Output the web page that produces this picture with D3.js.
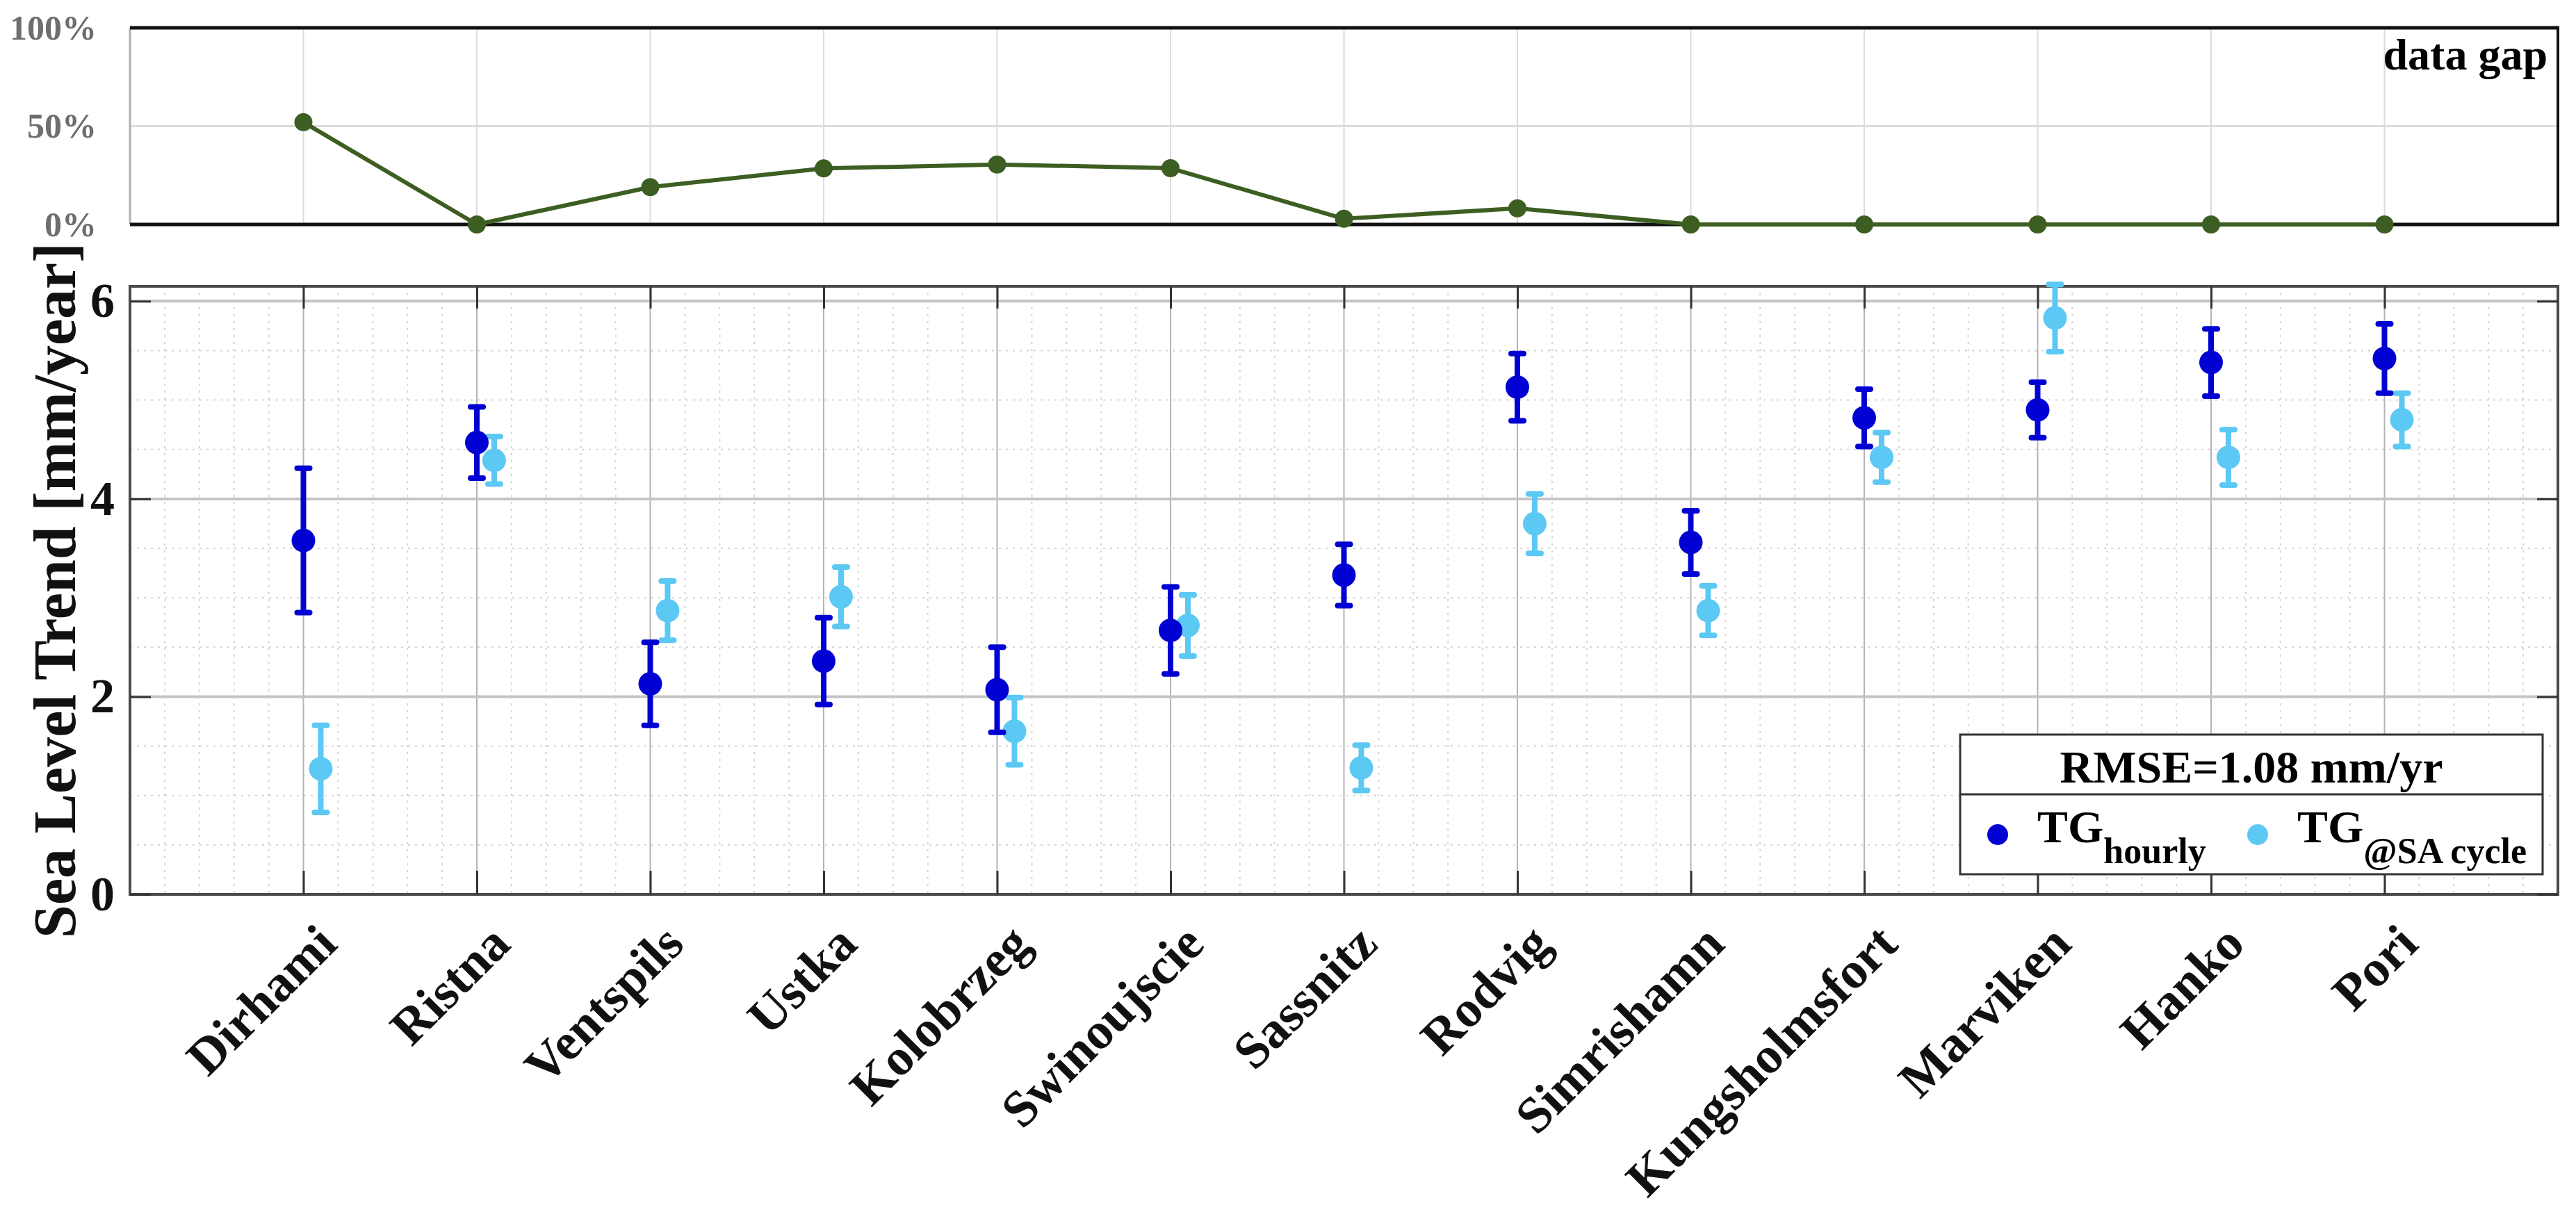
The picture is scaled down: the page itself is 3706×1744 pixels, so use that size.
<!DOCTYPE html>
<html>
<head>
<meta charset="utf-8">
<script src="https://cdn.jsdelivr.net/npm/d3@7"></script>
<style>
  html, body { margin: 0; padding: 0; background: #fff; }
  svg { display: block; }
  text { font-family: "Liberation Serif", "Times New Roman", serif; font-weight: bold; }
</style>
</head>
<body>
<svg id="chart" width="3706" height="1744"></svg>
<script>
// ---------- data ----------
const stations = ["Dirhami","Ristna","Ventspils","Ustka","Kolobrzeg","Swinoujscie","Sassnitz","Rodvig","Simrishamn","Kungsholmsfort","Marviken","Hanko","Pori"];
const dataGap = [52, 0, 19, 28.5, 30.5, 28.6, 2.9, 8.2, 0, 0, 0, 0, 0];
const hourly = [3.58, 4.57, 2.13, 2.36, 2.07, 2.67, 3.23, 5.13, 3.56, 4.82, 4.90, 5.38, 5.42];
const hourlyErr = [0.73, 0.36, 0.42, 0.44, 0.43, 0.44, 0.31, 0.34, 0.32, 0.29, 0.28, 0.34, 0.35];
const saCycle = [1.27, 4.39, 2.87, 3.01, 1.65, 2.72, 1.28, 3.75, 2.87, 4.42, 5.83, 4.42, 4.80];
const saErr = [0.44, 0.24, 0.30, 0.30, 0.34, 0.31, 0.23, 0.30, 0.25, 0.25, 0.34, 0.28, 0.27];
const gapTicks = [0, 50, 100];
const trendTicks = [0, 2, 4, 6];
const rmseLabel = "RMSE=1.08 mm/yr";

// ---------- layout ----------
const svg = d3.select("#chart");
const L = 187, R = 3680;
const topT = 40, topB = 323;
const botT = 412, botB = 1287;
const cHourly = "#0000d2", cSA = "#5cc8f4", cGreen = "#3d5e22";
const serif = '"Liberation Serif", "Times New Roman", serif';

const x = d3.scaleLinear().domain([0, 14]).range([L, R]);
const yGap = d3.scaleLinear().domain([0, 100]).range([topB, topT]);
const y = d3.scaleLinear().domain([0, 6.15]).range([botB, botT]);
const idx = d3.range(1, 14);

// ================= TOP PANEL =================
const gt = svg.append("g");
gt.selectAll("line.vg").data(idx).join("line")
  .attr("x1", d => x(d)).attr("x2", d => x(d))
  .attr("y1", topT).attr("y2", topB)
  .attr("stroke", "#dcdcdc").attr("stroke-width", 2);
gt.append("line").attr("x1", L).attr("x2", R).attr("y1", yGap(50)).attr("y2", yGap(50))
  .attr("stroke", "#dcdcdc").attr("stroke-width", 3);
gt.append("line").attr("x1", L).attr("x2", L).attr("y1", topT).attr("y2", topB).attr("stroke", "#b0b0b0").attr("stroke-width", 3);
gt.append("line").attr("x1", R).attr("x2", R).attr("y1", topT).attr("y2", topB).attr("stroke", "#111").attr("stroke-width", 4);
gt.append("line").attr("x1", L).attr("x2", R + 2).attr("y1", topT).attr("y2", topT).attr("stroke", "#111").attr("stroke-width", 5);
gt.append("line").attr("x1", L).attr("x2", R + 2).attr("y1", topB).attr("y2", topB).attr("stroke", "#111").attr("stroke-width", 5);

const gapAxis = d3.axisLeft(yGap).tickValues(gapTicks).tickFormat(d => d + "%").tickSize(0).tickPadding(48);
const ga = gt.append("g").attr("transform", `translate(${L},0)`).call(gapAxis);
ga.select(".domain").remove();
ga.selectAll("text").attr("font-size", 50).attr("fill", "#6e6e6e")
  .style("font-family", serif).style("font-weight", "bold");

const gapLine = d3.line().x((d, i) => x(i + 1)).y(d => yGap(d));
gt.append("path").datum(dataGap).attr("d", gapLine)
  .attr("fill", "none").attr("stroke", cGreen).attr("stroke-width", 6).attr("stroke-linejoin", "round");
gt.selectAll("circle").data(dataGap).join("circle")
  .attr("cx", (d, i) => x(i + 1)).attr("cy", d => yGap(d)).attr("r", 13).attr("fill", cGreen);

gt.append("text").attr("x", 3665).attr("y", 100).attr("text-anchor", "end")
  .attr("font-size", 64).attr("fill", "#000").text("data gap");

// ================= BOTTOM PANEL =================
const gb = svg.append("g");
const minorX = d3.range(0, 14.001, 0.2).filter(v => Math.abs(v - Math.round(v)) > 1e-6);
const minorY = d3.range(0, 6.15, 0.5).filter(v => Math.abs(v / 2 - Math.round(v / 2)) > 1e-6);
gb.selectAll("line.mx").data(minorX).join("line").attr("class", "mx")
  .attr("x1", d => x(d)).attr("x2", d => x(d)).attr("y1", botT).attr("y2", botB)
  .attr("stroke", "#d4d4d4").attr("stroke-width", 2).attr("stroke-dasharray", "3,7");
gb.selectAll("line.my").data(minorY).join("line").attr("class", "my")
  .attr("x1", L).attr("x2", R).attr("y1", d => y(d)).attr("y2", d => y(d))
  .attr("stroke", "#d4d4d4").attr("stroke-width", 2).attr("stroke-dasharray", "3,7");
gb.selectAll("line.gx").data(idx).join("line").attr("class", "gx")
  .attr("x1", d => x(d)).attr("x2", d => x(d)).attr("y1", botT).attr("y2", botB)
  .attr("stroke", "#b4b4b4").attr("stroke-width", 2);
gb.selectAll("line.gy").data(trendTicks.filter(v => v > 0)).join("line").attr("class", "gy")
  .attr("x1", L).attr("x2", R).attr("y1", d => y(d)).attr("y2", d => y(d))
  .attr("stroke", "#c4c4c4").attr("stroke-width", 4);

gb.append("rect").attr("x", L).attr("y", botT).attr("width", R - L).attr("height", botB - botT)
  .attr("fill", "none").attr("stroke", "#4a4a4a").attr("stroke-width", 4);

const yAxisL = d3.axisLeft(y).tickValues(trendTicks).tickFormat(d3.format("d")).tickSize(-30).tickPadding(22);
const yl = gb.append("g").attr("transform", `translate(${L},0)`).call(yAxisL);
yl.select(".domain").remove();
yl.selectAll("line").attr("stroke", "#333").attr("stroke-width", 3);
yl.selectAll("text").attr("font-size", 70).attr("fill", "#111")
  .style("font-family", serif).style("font-weight", "bold");

const yAxisR = d3.axisRight(y).tickValues(trendTicks).tickSize(-30).tickFormat("");
const yr = gb.append("g").attr("transform", `translate(${R},0)`).call(yAxisR);
yr.select(".domain").remove();
yr.selectAll("line").attr("stroke", "#333").attr("stroke-width", 3);

const xAxisT = d3.axisTop(x).tickValues(idx).tickSize(-32).tickFormat("");
const xt = gb.append("g").attr("transform", `translate(0,${botT})`).call(xAxisT);
xt.select(".domain").remove();
xt.selectAll("line").attr("stroke", "#333").attr("stroke-width", 3);

const xAxisB = d3.axisBottom(x).tickValues(idx).tickSize(-34).tickFormat(d => stations[d - 1]);
const xb = gb.append("g").attr("transform", `translate(0,${botB})`).call(xAxisB);
xb.select(".domain").remove();
xb.selectAll("line").attr("stroke", "#333").attr("stroke-width", 3);
xb.selectAll("text")
  .attr("x", 0).attr("y", 0).attr("dy", null)
  .attr("transform", "translate(51,75) rotate(-45)")
  .attr("text-anchor", "end")
  .attr("font-size", 74).attr("fill", "#111")
  .style("font-family", serif).style("font-weight", "bold");

gb.append("text").attr("transform", `translate(108,${(botT + botB) / 2}) rotate(-90)`)
  .attr("text-anchor", "middle").attr("font-size", 86).attr("fill", "#111")
  .text("Sea Level Trend [mm/year]");

function drawSeries(vals, errs, off, color) {
  const g = gb.append("g");
  const pts = vals.map((v, i) => ({ xv: i + 1 + off, v: v, e: errs[i] }));
  g.selectAll("line.eb").data(pts).join("line")
    .attr("x1", d => x(d.xv)).attr("x2", d => x(d.xv))
    .attr("y1", d => y(d.v - d.e)).attr("y2", d => y(d.v + d.e))
    .attr("stroke", color).attr("stroke-width", 8);
  g.selectAll("line.ct").data(pts).join("line")
    .attr("x1", d => x(d.xv) - 9).attr("x2", d => x(d.xv) + 9)
    .attr("y1", d => y(d.v + d.e)).attr("y2", d => y(d.v + d.e))
    .attr("stroke", color).attr("stroke-width", 8).attr("stroke-linecap", "round");
  g.selectAll("line.cb").data(pts).join("line")
    .attr("x1", d => x(d.xv) - 9).attr("x2", d => x(d.xv) + 9)
    .attr("y1", d => y(d.v - d.e)).attr("y2", d => y(d.v - d.e))
    .attr("stroke", color).attr("stroke-width", 8).attr("stroke-linecap", "round");
  g.selectAll("circle").data(pts).join("circle")
    .attr("cx", d => x(d.xv)).attr("cy", d => y(d.v)).attr("r", 17).attr("fill", color);
}
drawSeries(saCycle, saErr, 0.1, cSA);
drawSeries(hourly, hourlyErr, 0, cHourly);

// legend
const lg = svg.append("g");
lg.append("rect").attr("x", 2820).attr("y", 1057).attr("width", 838).attr("height", 201)
  .attr("fill", "#fff").attr("stroke", "#333").attr("stroke-width", 3);
lg.append("line").attr("x1", 2820).attr("x2", 3658).attr("y1", 1143).attr("y2", 1143)
  .attr("stroke", "#333").attr("stroke-width", 3);
lg.append("text").attr("x", 3239).attr("y", 1126).attr("text-anchor", "middle")
  .attr("font-size", 66).attr("fill", "#000").text(rmseLabel);
const items = [{ c: cHourly, sub: "hourly", cx: 2874, tx: 2931 }, { c: cSA, sub: "@SA cycle", cx: 3248, tx: 3305 }];
items.forEach(it => {
  lg.append("circle").attr("cx", it.cx).attr("cy", 1201).attr("r", 15).attr("fill", it.c);
  const t = lg.append("text").attr("x", it.tx).attr("y", 1212).attr("font-size", 66).attr("fill", "#000");
  t.append("tspan").text("TG");
  t.append("tspan").attr("dy", 30).attr("font-size", 52).text(it.sub);
});
</script>
</body>
</html>
